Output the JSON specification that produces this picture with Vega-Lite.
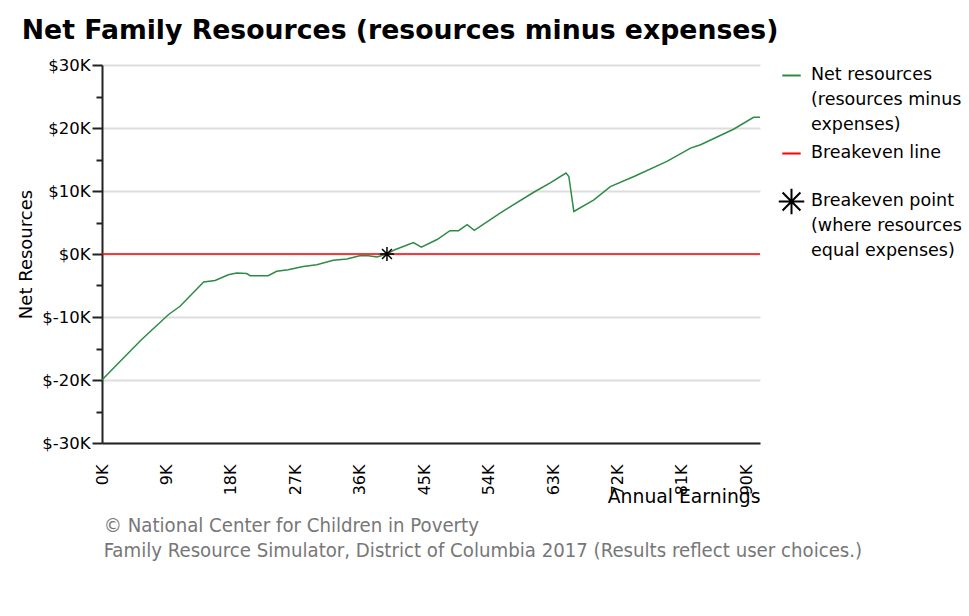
{
  "$schema": "https://vega.github.io/schema/vega-lite/v6.json",
  "background": "white",
  "padding": {"left": 17, "top": 18, "right": 0, "bottom": 0},
  "config": {
    "view": {"stroke": null},
    "font": "DejaVu Sans",
    "concat": {"spacing": 0},
    "legend": {"labelFont": "DejaVu Sans", "labelFontSize": 17.5, "labelColor": "#000", "labelLimit": 400}
  },
  "title": {
    "text": ["© National Center for Children in Poverty", "Family Resource Simulator, District of Columbia 2017 (Results reflect user choices.)"],
    "orient": "bottom",
    "anchor": "start",
    "font": "DejaVu Sans Condensed, Liberation Sans Narrow, DejaVu Sans",
    "fontSize": 20.2,
    "fontWeight": "normal",
    "color": "#777777",
    "lineHeight": 25,
    "dx": 86,
    "offset": 10
  },
  "data": {
    "values": [
      {"series": "Net resources (resources minus expenses)", "earnings": 0, "net": -20000},
      {"series": "Net resources (resources minus expenses)", "earnings": 1350, "net": -18400},
      {"series": "Net resources (resources minus expenses)", "earnings": 5500, "net": -13600},
      {"series": "Net resources (resources minus expenses)", "earnings": 9300, "net": -9600},
      {"series": "Net resources (resources minus expenses)", "earnings": 10900, "net": -8300},
      {"series": "Net resources (resources minus expenses)", "earnings": 14200, "net": -4450},
      {"series": "Net resources (resources minus expenses)", "earnings": 15800, "net": -4200},
      {"series": "Net resources (resources minus expenses)", "earnings": 17650, "net": -3300},
      {"series": "Net resources (resources minus expenses)", "earnings": 18800, "net": -3000},
      {"series": "Net resources (resources minus expenses)", "earnings": 20200, "net": -3100},
      {"series": "Net resources (resources minus expenses)", "earnings": 20700, "net": -3450},
      {"series": "Net resources (resources minus expenses)", "earnings": 23200, "net": -3450},
      {"series": "Net resources (resources minus expenses)", "earnings": 24400, "net": -2750},
      {"series": "Net resources (resources minus expenses)", "earnings": 26000, "net": -2500},
      {"series": "Net resources (resources minus expenses)", "earnings": 28100, "net": -1970},
      {"series": "Net resources (resources minus expenses)", "earnings": 30000, "net": -1700},
      {"series": "Net resources (resources minus expenses)", "earnings": 32300, "net": -1000},
      {"series": "Net resources (resources minus expenses)", "earnings": 34200, "net": -800},
      {"series": "Net resources (resources minus expenses)", "earnings": 36000, "net": -270},
      {"series": "Net resources (resources minus expenses)", "earnings": 37200, "net": -270},
      {"series": "Net resources (resources minus expenses)", "earnings": 38400, "net": -480},
      {"series": "Net resources (resources minus expenses)", "earnings": 39800, "net": 0},
      {"series": "Net resources (resources minus expenses)", "earnings": 40900, "net": 680},
      {"series": "Net resources (resources minus expenses)", "earnings": 43500, "net": 1800},
      {"series": "Net resources (resources minus expenses)", "earnings": 44600, "net": 1100},
      {"series": "Net resources (resources minus expenses)", "earnings": 46800, "net": 2300},
      {"series": "Net resources (resources minus expenses)", "earnings": 48600, "net": 3700},
      {"series": "Net resources (resources minus expenses)", "earnings": 49800, "net": 3700},
      {"series": "Net resources (resources minus expenses)", "earnings": 51000, "net": 4650},
      {"series": "Net resources (resources minus expenses)", "earnings": 52000, "net": 3750},
      {"series": "Net resources (resources minus expenses)", "earnings": 55600, "net": 6500},
      {"series": "Net resources (resources minus expenses)", "earnings": 60300, "net": 9800},
      {"series": "Net resources (resources minus expenses)", "earnings": 62600, "net": 11300},
      {"series": "Net resources (resources minus expenses)", "earnings": 64800, "net": 12850},
      {"series": "Net resources (resources minus expenses)", "earnings": 65200, "net": 12300},
      {"series": "Net resources (resources minus expenses)", "earnings": 65900, "net": 6750},
      {"series": "Net resources (resources minus expenses)", "earnings": 68700, "net": 8600},
      {"series": "Net resources (resources minus expenses)", "earnings": 71000, "net": 10700},
      {"series": "Net resources (resources minus expenses)", "earnings": 74300, "net": 12300},
      {"series": "Net resources (resources minus expenses)", "earnings": 78900, "net": 14700},
      {"series": "Net resources (resources minus expenses)", "earnings": 82200, "net": 16800},
      {"series": "Net resources (resources minus expenses)", "earnings": 83600, "net": 17350},
      {"series": "Net resources (resources minus expenses)", "earnings": 88200, "net": 19800},
      {"series": "Net resources (resources minus expenses)", "earnings": 91000, "net": 21700},
      {"series": "Net resources (resources minus expenses)", "earnings": 91900, "net": 21700},
      {"series": "Breakeven line", "earnings": 0, "net": 0},
      {"series": "Breakeven line", "earnings": 91900, "net": 0},
      {"series": "Breakeven point (where resources equal expenses)", "earnings": 39800, "net": 0}
    ]
  },
  "vconcat": [
    {
      "title": {
        "text": "Net Family Resources (resources minus expenses)",
        "anchor": "start",
        "font": "DejaVu Sans",
        "fontSize": 26.7,
        "fontWeight": "bold",
        "color": "#000",
        "dx": 4,
        "offset": 12
      },
      "width": 658,
      "height": 378,
      "encoding": {
        "x": {
          "field": "earnings",
          "type": "quantitative",
          "scale": {"domain": [0, 91900], "nice": false, "zero": false},
          "axis": {
            "title": "Annual Earnings",
            "titleFont": "DejaVu Sans",
            "titleFontSize": 18.8,
            "titleFontWeight": "normal",
            "titleColor": "#000",
            "titleAnchor": "end",
            "titleAlign": "right",
            "titleBaseline": "alphabetic",
            "titleY": 59,
            "titleX": 658,
            "values": [0, 9000, 18000, 27000, 36000, 45000, 54000, 63000, 72000, 81000, 90000],
            "labelExpr": "(datum.value / 1000) + 'K'",
            "labelAngle": 270,
            "labelFont": "DejaVu Sans",
            "labelFontSize": 16,
            "labelColor": "#000",
            "labelPadding": 21,
            "labelFlush": false,
            "labelOverlap": false,
            "ticks": false,
            "grid": false,
            "domainColor": "#222",
            "domainWidth": 2
          }
        },
        "y": {
          "field": "net",
          "type": "quantitative",
          "scale": {"domain": [-30000, 30000], "nice": false},
          "axis": {
            "title": "Net Resources",
            "titleFont": "DejaVu Sans",
            "titleFontSize": 18,
            "titleFontWeight": "normal",
            "titleColor": "#000",
            "titlePadding": 6,
            "values": [-30000, -25000, -20000, -15000, -10000, -5000, 0, 5000, 10000, 15000, 20000, 25000, 30000],
            "labelExpr": "datum.value % 10000 === 0 ? '$' + (datum.value / 1000) + 'K' : ''",
            "labelFont": "DejaVu Sans",
            "labelFontSize": 16.5,
            "labelColor": "#000",
            "labelPadding": 2,
            "labelFlush": false,
            "labelOverlap": false,
            "tickSize": {"condition": {"test": "datum.value % 10000 === 0", "value": 10}, "value": 6},
            "tickColor": "#222",
            "tickWidth": 2,
            "grid": true,
            "gridColor": "#dddddd",
            "gridWidth": 2,
            "gridOpacity": {"condition": {"test": "datum.value % 10000 === 0", "value": 1}, "value": 0},
            "domainColor": "#222",
            "domainWidth": 2
          }
        },
        "color": {
          "field": "series",
          "type": "nominal",
          "scale": {
            "domain": ["Net resources (resources minus expenses)", "Breakeven line", "Breakeven point (where resources equal expenses)"],
            "range": ["#2e8b46", "#ff0000", "#000000"]
          },
          "legend": {
            "title": null,
            "orient": "right",
            "offset": 2,
            "symbolType": "stroke",
            "symbolSize": 400,
            "symbolStrokeWidth": 2,
            "labelOffset": 9,
            "labelBaseline": "top",
            "rowPadding": 10,
            "labelExpr": "datum.label == 'Breakeven line' ? ['Breakeven line', ''] : datum.label == 'Net resources (resources minus expenses)' ? ['Net resources', '(resources minus', 'expenses)'] : ['Breakeven point', '(where resources', 'equal expenses)']",
            "encode": {
              "symbols": {
                "update": {
                  "shape": {"signal": "datum.value == 'Breakeven point (where resources equal expenses)' ? 'M-1,0L1,0M0,-1L0,1M-0.7,-0.7L0.7,0.7M-0.7,0.7L0.7,-0.7' : 'stroke'"},
                  "size": {"signal": "datum.value == 'Breakeven point (where resources equal expenses)' ? 650 : 340"},
                  "strokeWidth": {"value": 2}
                }
              },
              "labels": {
                "update": {
                  "lineHeight": {"signal": "datum.value == 'Breakeven line' ? 13 : 25"},
                  "dy": {"value": -10}
                }
              }
            }
          }
        }
      },
      "layer": [
        {
          "transform": [{"filter": "datum.series == 'Net resources (resources minus expenses)'"}],
          "mark": {"type": "line", "strokeWidth": 1.5}
        },
        {
          "transform": [{"filter": "datum.series == 'Breakeven line'"}],
          "mark": {"type": "line", "strokeWidth": 1.5}
        },
        {
          "transform": [{"filter": "datum.series == 'Breakeven point (where resources equal expenses)'"}],
          "mark": {"type": "point", "filled": false, "shape": "M-1,0L1,0M0,-1L0,1M-0.7,-0.7L0.7,0.7M-0.7,0.7L0.7,-0.7", "size": 200, "strokeWidth": 1.5, "opacity": 1}
        }
      ]
    }
  ]
}
